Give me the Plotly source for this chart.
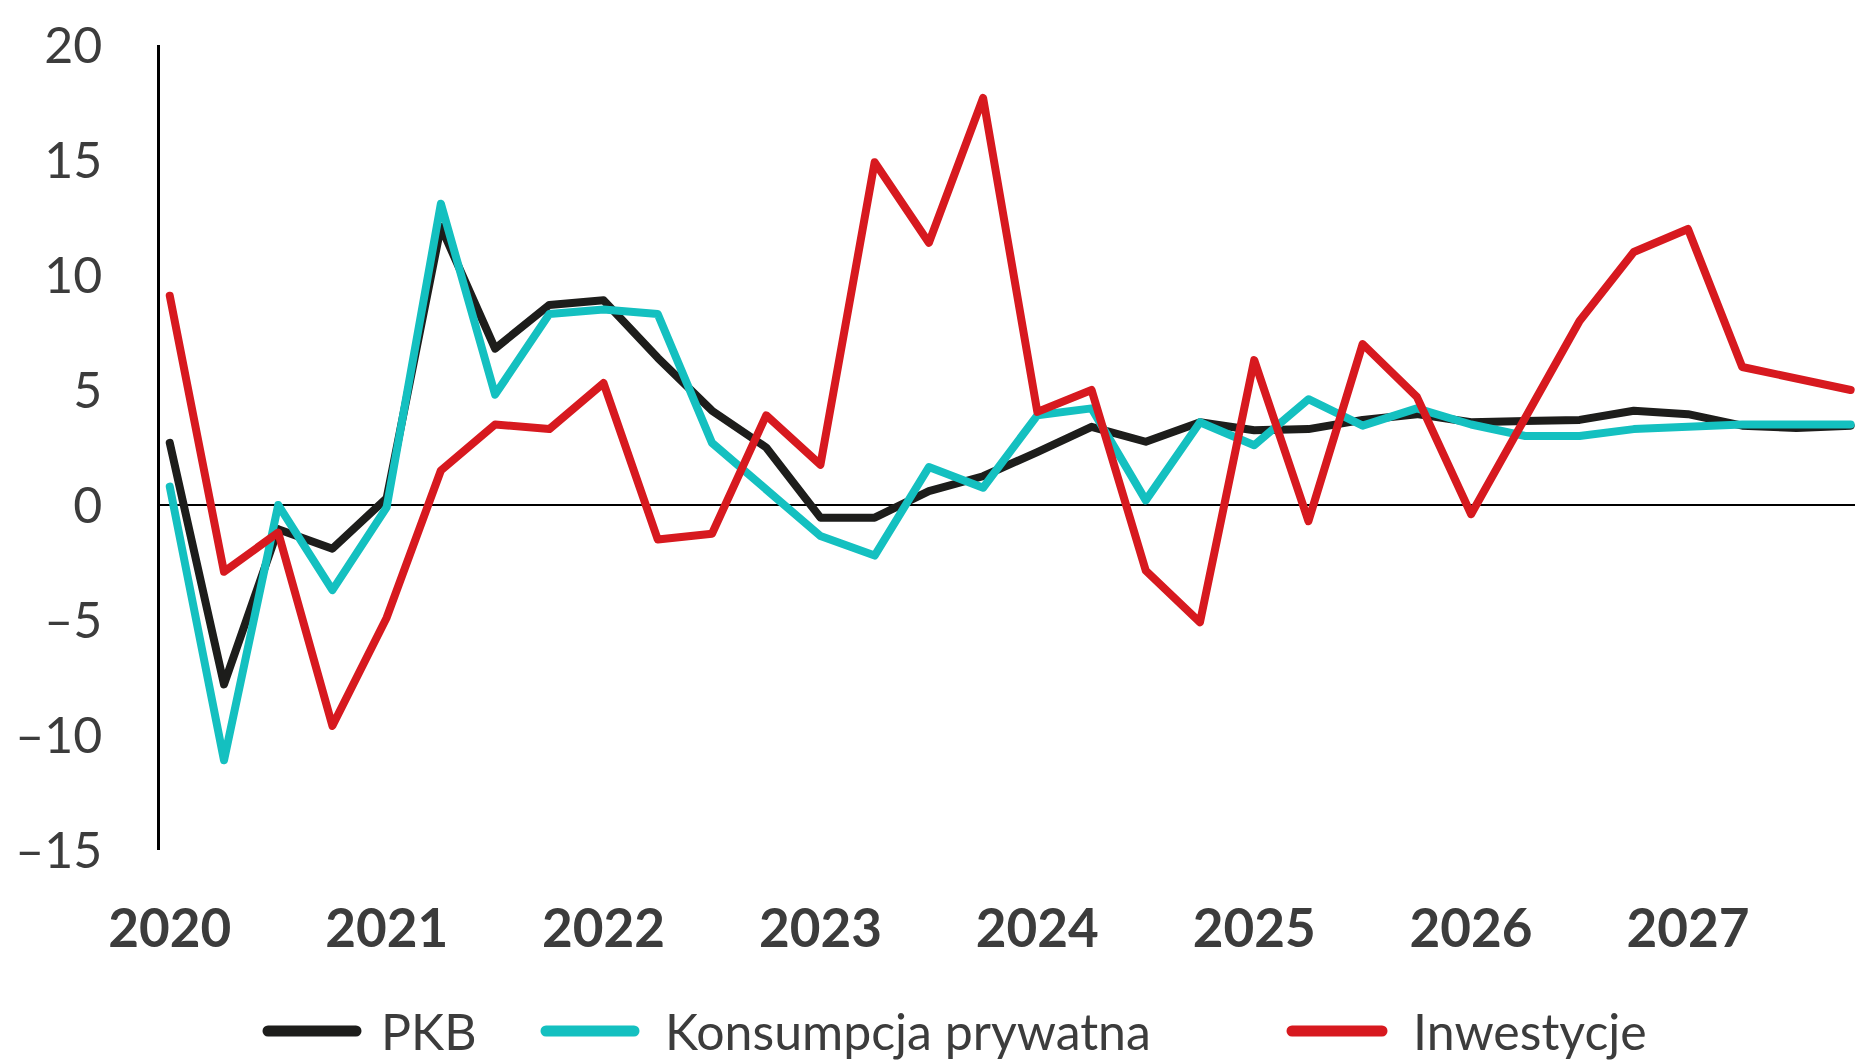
import plotly.graph_objects as go

# quarterly y/y growth, 2020Q1 .. 2027Q4
quarters = [f"{y}Q{q}" for y in range(2020, 2028) for q in range(1, 5)]
years = list(range(2020, 2028))
year_labels = [str(y) for y in years]

pkb = [2.7, -7.8, -1.05, -1.9, 0.3, 12.1, 6.8, 8.7,
       8.9, 6.4, 4.1, 2.5, -0.55, -0.55, 0.6, 1.25,
       2.3, 3.4, 2.75, 3.6, 3.25, 3.3, 3.7, 3.95,
       3.6, 3.65, 3.7, 4.1, 3.95, 3.45, 3.35, 3.45]
konsumpcja = [0.8, -11.1, 0.0, -3.7, -0.1, 13.1, 4.8, 8.3,
              8.5, 8.3, 2.7, 0.7, -1.35, -2.2, 1.65, 0.75,
              3.9, 4.2, 0.2, 3.6, 2.6, 4.6, 3.45, 4.2,
              3.5, 3.0, 3.0, 3.3, 3.4, 3.5, 3.5, 3.5]
inwestycje = [9.1, -2.9, -1.2, -9.6, -4.9, 1.5, 3.5, 3.3,
              5.3, -1.5, -1.25, 3.9, 1.75, 14.9, 11.4, 17.7,
              4.05, 5.0, -2.85, -5.1, 6.3, -0.7, 7.0, 4.7,
              -0.4, 3.8, 8.0, 11.0, 12.0, 6.0, 5.5, 5.0]

y_ticks = [20, 15, 10, 5, 0, -5, -10, -15]
y_labels = ["20", "15", "10", "5", "0", "–5", "–10", "–15"]

names = ["PKB", "Konsumpcja prywatna", "Inwestycje"]
colors = ["#1d1d1b", "#14c0c0", "#d7191f"]

# numeric x: year + quarter fraction
x = [int(q[:4]) + (int(q[-1]) - 1) / 4 for q in quarters]

FONT = "Lato"
TXT = "#3c3c3c"
W, H = 1855, 1060
L, R, T, B = 160, 0, 45, 1060 - 850

fig = go.Figure()
for name, vals, col in zip(names, [pkb, konsumpcja, inwestycje], colors):
    fig.add_trace(go.Scatter(x=x, y=vals, mode="lines", name=name, showlegend=False,
                             line=dict(color=col, width=8)))

# hand-made legend with long line samples (pixel positions)
def px_x(p):
    return (p - L) / (W - L - R)

def px_y(p):
    return (H - B - p) / (H - T - B)

leg_y = 1031
legend_items = [(268, 356, 379), (546, 634, 663), (1292, 1382, 1411)]
for (x0, x1, tx), name, col in zip(legend_items, names, colors):
    fig.add_shape(type="line", xref="paper", yref="paper",
                  x0=px_x(x0), x1=px_x(x1), y0=px_y(leg_y), y1=px_y(leg_y),
                  line=dict(color=col, width=11))
    fig.add_annotation(xref="paper", yref="paper", x=px_x(tx), y=px_y(leg_y),
                       xanchor="left", yanchor="middle", showarrow=False,
                       text=name, font=dict(family=FONT, size=50, color=TXT))

fig.update_layout(
    width=W, height=H,
    margin=dict(l=L, r=R, t=T, b=B),
    plot_bgcolor="white", paper_bgcolor="white",
    font=dict(family=FONT, color=TXT),
    xaxis=dict(range=[2019.955, 2027.77], tickvals=years, ticktext=year_labels,
               showgrid=False, zeroline=False, showline=False,
               ticks="outside", ticklen=32, tickcolor="rgba(0,0,0,0)",
               tickfont=dict(family=FONT, size=53, color=TXT, weight="bold")),
    yaxis=dict(range=[-15, 20], tickvals=y_ticks, ticktext=y_labels,
               showgrid=False, zeroline=True, zerolinecolor="black", zerolinewidth=2,
               showline=True, linecolor="black", linewidth=2.5,
               ticks="outside", ticklen=45, tickcolor="rgba(0,0,0,0)",
               tickfont=dict(family=FONT, size=50, color=TXT)),
)

# no page margin, rounded line joins / caps like the original artwork
post = """
document.body.style.margin = '0';
document.body.style.overflow = 'hidden';
document.querySelectorAll('.scatterlayer path.js-line').forEach(function (p) {
    p.style.strokeLinejoin = 'round';
    p.style.strokeLinecap = 'round';
});
document.querySelectorAll('.shapelayer path').forEach(function (p) {
    p.style.strokeLinecap = 'round';
});
"""
fig.write_html("out.html", post_script=post, config={"displayModeBar": False})
